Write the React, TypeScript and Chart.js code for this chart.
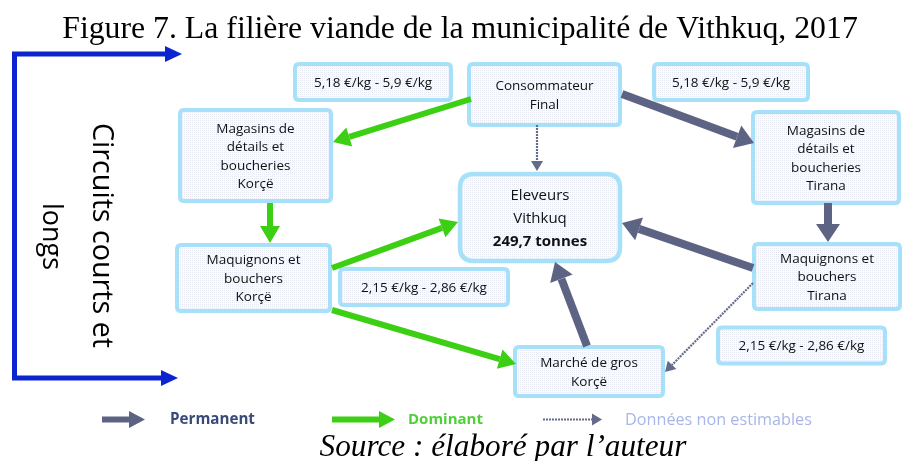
import React, { useEffect, useRef } from "react";
import { Chart, registerables } from "chart.js";

Chart.register(...registerables);

// ---- Text content ----
const titleText = "Figure 7. La filière viande de la municipalité de Vithkuq, 2017";
const sourceText = "Source : élaboré par l’auteur";
const sideLabelLines = ["Circuits courts et", "longs"];

// ---- Nodes (diagram units = canvas units on hidden linear scales) ----
const nodeLabels: string[][] = [
  ["5,18 €/kg - 5,9 €/kg"],
  ["Consommateur", "Final"],
  ["5,18 €/kg - 5,9 €/kg"],
  ["Magasins de", "détails et", "boucheries", "Korçë"],
  ["Magasins de", "détails et", "boucheries", "Tirana"],
  ["Eleveurs", "Vithkuq", "249,7 tonnes"],
  ["Maquignons et", "bouchers", "Korçë"],
  ["2,15 €/kg - 2,86 €/kg"],
  ["Maquignons et", "bouchers", "Tirana"],
  ["2,15 €/kg - 2,86 €/kg"],
  ["Marché de gros", "Korçë"],
];
const nodeX = [373, 544.5, 731, 255.5, 826, 540, 253.5, 424, 827, 801.5, 589];
const nodeY = [82, 94.5, 82, 155.5, 157.5, 217.5, 278, 287, 276.5, 345.5, 371.5];
const nodeW = [160, 155, 158, 155, 150, 164, 157, 172, 150, 171, 152];
const nodeH = [40, 65, 40, 95, 95, 91, 70, 40, 69, 40, 53];

// ---- Flows: tail (x1,y1) -> tip (x2,y2), kind ----
const flowKind = ["dominant", "dominant", "dominant", "dominant", "permanent", "permanent", "permanent", "permanent", "unknown", "unknown"];
const flowX1 = [471, 270, 332, 332, 622, 828, 753, 587, 537, 753];
const flowY1 = [99, 203, 268, 310, 94, 203, 268, 346, 125, 283];
const flowX2 = [333, 270, 458, 516, 754, 828, 622, 555, 537, 665];
const flowY2 = [142, 243, 222, 364, 143, 242, 223, 262, 171, 372];

// ---- Legend ----
const legendLabels = ["Permanent", "Dominant", "Données non estimables"];
const legendKinds = ["permanent", "dominant", "unknown"];

const COLORS: Record<string, string> = {
  permanent: "#5d6483",
  dominant: "#3ccf14",
  unknown: "#646b8a",
};
const LEGEND_TEXT = ["#3a4a78", "#4fcf3a", "#a8b5e6"];

function makePattern(ctx: CanvasRenderingContext2D) {
  const c = document.createElement("canvas");
  c.width = 2;
  c.height = 2;
  const p = c.getContext("2d")!;
  p.fillStyle = "#fafbfd";
  p.fillRect(0, 0, 2, 2);
  p.fillStyle = "#e7eaf2";
  p.fillRect(0, 0, 1, 1);
  return ctx.createPattern(c, "repeat");
}

function roundRect(ctx: CanvasRenderingContext2D, x: number, y: number, w: number, h: number, r: number) {
  ctx.beginPath();
  ctx.moveTo(x + r, y);
  ctx.lineTo(x + w - r, y);
  ctx.quadraticCurveTo(x + w, y, x + w, y + r);
  ctx.lineTo(x + w, y + h - r);
  ctx.quadraticCurveTo(x + w, y + h, x + w - r, y + h);
  ctx.lineTo(x + r, y + h);
  ctx.quadraticCurveTo(x, y + h, x, y + h - r);
  ctx.lineTo(x, y + r);
  ctx.quadraticCurveTo(x, y, x + r, y);
  ctx.closePath();
}

function drawArrow(ctx: CanvasRenderingContext2D, x1: number, y1: number, x2: number, y2: number, kind: string, small = false) {
  const ang = Math.atan2(y2 - y1, x2 - x1);
  let shaft = 6, headL = 17, headW = 10, dash: number[] = [];
  if (kind === "permanent") { shaft = 8; headL = 18; headW = 12; }
  if (kind === "unknown") { shaft = 2.2; headL = 10; headW = 6; dash = [2, 1]; }
  if (small && kind === "permanent") { shaft = 6; headL = 16; headW = 8.5; }
  if (small && kind === "dominant") { shaft = 6; headL = 16; headW = 8.5; }
  const bx = x2 - Math.cos(ang) * headL;
  const by = y2 - Math.sin(ang) * headL;
  ctx.save();
  ctx.strokeStyle = COLORS[kind];
  ctx.fillStyle = COLORS[kind];
  ctx.lineWidth = shaft;
  ctx.lineCap = "butt";
  ctx.setLineDash(dash);
  ctx.beginPath();
  ctx.moveTo(x1, y1);
  ctx.lineTo(bx, by);
  ctx.stroke();
  ctx.setLineDash([]);
  const nx = -Math.sin(ang), ny = Math.cos(ang);
  ctx.beginPath();
  ctx.moveTo(x2, y2);
  ctx.lineTo(bx + nx * headW, by + ny * headW);
  ctx.lineTo(bx - nx * headW, by - ny * headW);
  ctx.closePath();
  ctx.fill();
  ctx.restore();
}

function fitFont(ctx: CanvasRenderingContext2D, text: string, style: string, family: string, base: number, target: number) {
  ctx.font = `${style} ${base}px ${family}`;
  const w = ctx.measureText(text).width;
  const size = (base * target) / w;
  ctx.font = `${style} ${size}px ${family}`;
  return size;
}

const diagramPlugin = {
  id: "diagram",
  afterDatasetsDraw(chart: any) {
    const ctx: CanvasRenderingContext2D = chart.ctx;
    const xs = chart.scales.x;
    const ys = chart.scales.y;
    const px = (v: number) => xs.getPixelForValue(v);
    const py = (v: number) => ys.getPixelForValue(v);
    const pattern = makePattern(ctx);

    ctx.save();
    // Title
    ctx.fillStyle = "#000";
    ctx.textAlign = "center";
    ctx.textBaseline = "alphabetic";
    fitFont(ctx, titleText, "", "'Liberation Serif', 'Times New Roman', serif", 28, 796);
    ctx.fillText(titleText, px(460), py(38));

    // Source
    fitFont(ctx, sourceText, "italic", "'Liberation Serif', 'Times New Roman', serif", 28, 367);
    ctx.fillText(sourceText, px(503), py(456));

    // Blue bracket
    ctx.strokeStyle = "#0b24cf";
    ctx.fillStyle = "#0b24cf";
    ctx.lineWidth = 5;
    ctx.beginPath();
    ctx.moveTo(px(166), py(54));
    ctx.lineTo(px(14.5), py(54));
    ctx.lineTo(px(14.5), py(378));
    ctx.lineTo(px(162), py(378));
    ctx.stroke();
    [[54, 182], [378, 178]].forEach(([yy, tip]) => {
      ctx.beginPath();
      ctx.moveTo(px(tip), py(yy));
      ctx.lineTo(px(tip - 17), py(yy - 8));
      ctx.lineTo(px(tip - 17), py(yy + 8));
      ctx.closePath();
      ctx.fill();
    });

    // Rotated side label
    ctx.save();
    ctx.fillStyle = "#000";
    ctx.textAlign = "center";
    ctx.textBaseline = "alphabetic";
    ctx.translate(px(93), py(235.5));
    ctx.rotate(Math.PI / 2);
    fitFont(ctx, sideLabelLines[0], "", "'Open Sans', sans-serif", 32, 225);
    ctx.fillText(sideLabelLines[0], 0, 0);
    ctx.restore();
    ctx.save();
    ctx.fillStyle = "#000";
    ctx.textAlign = "center";
    ctx.textBaseline = "alphabetic";
    ctx.translate(px(43), py(236.5));
    ctx.rotate(Math.PI / 2);
    fitFont(ctx, sideLabelLines[1], "", "'Open Sans', sans-serif", 32, 67);
    ctx.fillText(sideLabelLines[1], 0, 0);
    ctx.restore();

    // Boxes
    nodeLabels.forEach((lines, i) => {
      const x0 = px(nodeX[i] - nodeW[i] / 2);
      const y0 = py(nodeY[i] - nodeH[i] / 2);
      const w = px(nodeX[i] + nodeW[i] / 2) - x0;
      const h = py(nodeY[i] + nodeH[i] / 2) - y0;
      const isMain = lines[0] === "Eleveurs";
      const r = isMain ? 14 : 4;
      roundRect(ctx, x0 + 2, y0 + 2, w - 4, h - 4, r);
      ctx.fillStyle = pattern || "#f8f9fc";
      ctx.fill();
      ctx.strokeStyle = "#a6e0f9";
      ctx.lineWidth = isMain ? 4.5 : 4;
      ctx.stroke();

      ctx.fillStyle = "#111";
      ctx.textAlign = "center";
      ctx.textBaseline = "middle";
      const lh = isMain ? 23 : 18.5;
      const n = lines.length;
      lines.forEach((t, k) => {
        const bold = isMain && k === 2;
        ctx.font = `${bold ? "bold " : ""}${isMain ? 15 : 13.5}px 'Open Sans', sans-serif`;
        const yy = nodeY[i] + 1 + (k - (n - 1) / 2) * lh;
        ctx.fillText(t, px(nodeX[i]), py(yy));
      });
    });

    // Flows
    flowKind.forEach((k, i) => {
      drawArrow(ctx, px(flowX1[i]), py(flowY1[i]), px(flowX2[i]), py(flowY2[i]), k);
    });

    // Legend
    const legArrowX1 = [102, 332, 543];
    const legArrowX2 = [145, 395, 602];
    const legTextX = [170, 408, 625];
    const legTextW = [85, 75, 187];
    legendKinds.forEach((k, i) => {
      drawArrow(ctx, px(legArrowX1[i]), py(419.5), px(legArrowX2[i]), py(419.5), k, true);
      ctx.fillStyle = LEGEND_TEXT[i];
      ctx.textAlign = "left";
      ctx.textBaseline = "middle";
      fitFont(ctx, legendLabels[i], i === 2 ? "" : "bold", "'Open Sans', sans-serif", 14, legTextW[i]);
      ctx.fillText(legendLabels[i], px(legTextX[i]), py(420));
    });
    ctx.restore();
  },
};

export default function App() {
  const ref = useRef<HTMLCanvasElement | null>(null);
  useEffect(() => {
    if (!ref.current) return;
    const points = nodeX.map((x, i) => ({ x, y: nodeY[i] }));
    const chart = new Chart(ref.current, {
      type: "scatter",
      data: { datasets: [{ data: points, pointRadius: 0, showLine: false }] },
      options: {
        animation: false,
        responsive: false,
        devicePixelRatio: 1,
        layout: { padding: 0 },
        plugins: { legend: { display: false }, tooltip: { enabled: false }, title: { display: false } },
        scales: {
          x: { type: "linear", min: 0, max: 903, display: false },
          y: { type: "linear", min: 0, max: 461, reverse: true, display: false },
        },
      },
      plugins: [diagramPlugin],
    });
    return () => chart.destroy();
  }, []);
  return (
    <div style={{ position: "fixed", left: 0, top: 0, width: 903, height: 461, background: "#fff" }}>
      <canvas ref={ref} width={903} height={461} />
    </div>
  );
}
